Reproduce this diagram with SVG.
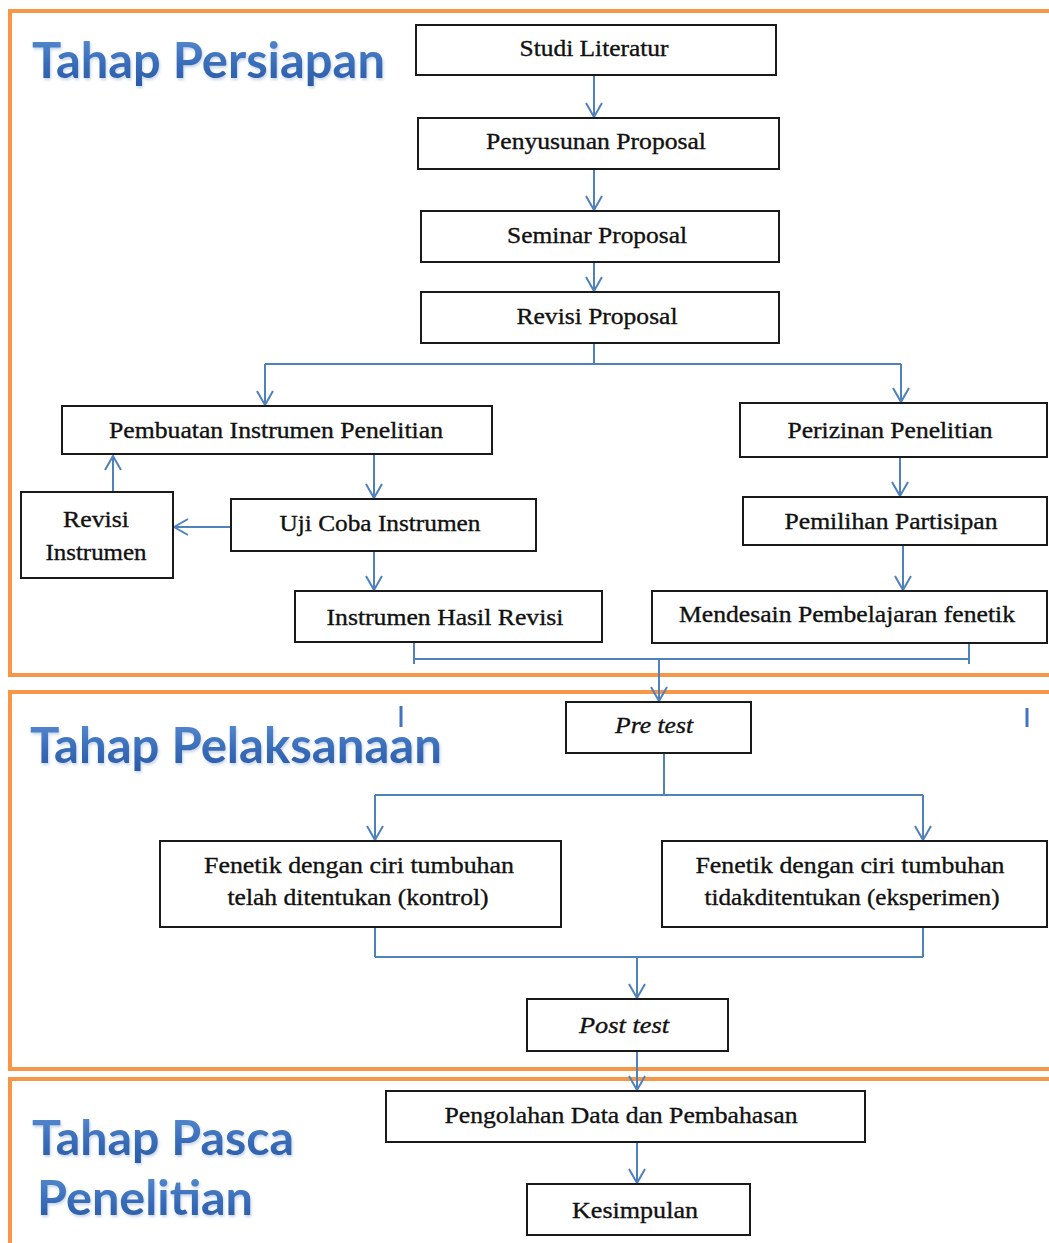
<svg xmlns="http://www.w3.org/2000/svg" width="1049" height="1243" viewBox="0 0 1049 1243">
<style>
.frame{fill:none;stroke:#F79646;stroke-width:4}
.box{fill:#fff;stroke:#1a1a1a;stroke-width:2}
.lbl{font-family:"Liberation Serif","Times New Roman",serif;font-size:24px;fill:#111;stroke:#111;stroke-width:0.35;text-anchor:middle}
.it{font-style:italic}
.title{font-family:Lato,"Liberation Sans",Arial,sans-serif;font-weight:700;fill:url(#tg);filter:url(#sh)}
.con{fill:none;stroke:#4F81BD;stroke-width:2}
.arr{marker-end:url(#ah)}
</style>
<defs>
<linearGradient id="tg" x1="0" y1="0" x2="0" y2="1">
<stop offset="0" stop-color="#5F92D4"/>
<stop offset="0.55" stop-color="#3A6EBB"/>
<stop offset="1" stop-color="#2858A2"/>
</linearGradient>
<filter id="sh" x="-5%" y="-20%" width="110%" height="150%">
<feGaussianBlur in="SourceAlpha" stdDeviation="1.5"/>
<feOffset dx="1" dy="2" result="b"/>
<feFlood flood-color="#9fb8d8" flood-opacity="0.6"/>
<feComposite in2="b" operator="in"/>
<feMerge><feMergeNode/><feMergeNode in="SourceGraphic"/></feMerge>
</filter>
<marker id="ah" markerUnits="userSpaceOnUse" viewBox="0 0 16 18" refX="15" refY="9" markerWidth="16" markerHeight="18" orient="auto">
<path d="M1,1 L15,9 L1,17" fill="none" stroke="#4F81BD" stroke-width="2"/>
</marker>
</defs>
<rect width="1049" height="1243" fill="#fff"/>

<g id="frames">
<rect class="frame" x="10" y="11" width="1060" height="664"/>
<rect class="frame" x="10" y="692" width="1060" height="377"/>
<rect class="frame" x="10" y="1079" width="1060" height="200"/>
</g>

<g id="titles">
<text class="title" x="32" y="78" font-size="50" textLength="353" lengthAdjust="spacingAndGlyphs">Tahap Persiapan</text>
<text class="title" x="30" y="763" font-size="50" textLength="412" lengthAdjust="spacingAndGlyphs">Tahap Pelaksanaan</text>
<text class="title" x="32" y="1155" font-size="48" textLength="262" lengthAdjust="spacingAndGlyphs">Tahap Pasca</text>
<text class="title" x="37" y="1215" font-size="48" textLength="216" lengthAdjust="spacingAndGlyphs">Penelitian</text>
</g>

<g id="connectors">
<path class="con arr" d="M594,75 V117"/>
<path class="con arr" d="M594,169 V210"/>
<path class="con arr" d="M594,262 V291"/>
<path class="con" d="M594,343 V364 M265,364 H901"/>
<path class="con arr" d="M265,364 V405"/>
<path class="con arr" d="M901,364 V402"/>
<path class="con arr" d="M374,454 V498"/>
<path class="con arr" d="M231,527 H174"/>
<path class="con arr" d="M113,492 V456"/>
<path class="con arr" d="M374,551 V590"/>
<path class="con arr" d="M900,457 V496"/>
<path class="con arr" d="M903,546 V590"/>
<path class="con" d="M414,642 V664 M969,643 V664 M414,659 H969"/>
<path class="con arr" d="M659,659 V701"/>
<path class="con" d="M664,753 V795 M375,795 H923"/>
<path class="con arr" d="M375,795 V840"/>
<path class="con arr" d="M923,795 V840"/>
<path class="con" d="M375,927 V957 M923,927 V957 M375,957 H923"/>
<path class="con arr" d="M637,957 V998"/>
<path class="con arr" d="M637,1051 V1090"/>
<path class="con arr" d="M637,1142 V1183"/>
<path d="M401,706 V727 M1027,708 V727" fill="none" stroke="#4472C4" stroke-width="3"/>
</g>

<g id="n-studi"><rect class="box" x="416" y="25" width="360" height="50"/><text class="lbl" x="594" y="56" textLength="149" lengthAdjust="spacingAndGlyphs">Studi Literatur</text></g>
<g id="n-penyusunan"><rect class="box" x="418" y="118" width="361" height="51"/><text class="lbl" x="596" y="149" textLength="220" lengthAdjust="spacingAndGlyphs">Penyusunan  Proposal</text></g>
<g id="n-seminar"><rect class="box" x="421" y="211" width="358" height="51"/><text class="lbl" x="597" y="243" textLength="180" lengthAdjust="spacingAndGlyphs">Seminar  Proposal</text></g>
<g id="n-revisiprop"><rect class="box" x="421" y="292" width="358" height="51"/><text class="lbl" x="597" y="324" textLength="161" lengthAdjust="spacingAndGlyphs">Revisi  Proposal</text></g>
<g id="n-pembuatan"><rect class="box" x="62" y="406" width="430" height="48"/><text class="lbl" x="276" y="438" textLength="334" lengthAdjust="spacingAndGlyphs">Pembuatan  Instrumen  Penelitian</text></g>
<g id="n-revisiinst"><rect class="box" x="21" y="492" width="152" height="86"/><text class="lbl" x="96" y="527" textLength="66" lengthAdjust="spacingAndGlyphs">Revisi</text><text class="lbl" x="96" y="560" textLength="101" lengthAdjust="spacingAndGlyphs">Instrumen</text></g>
<g id="n-ujicoba"><rect class="box" x="231" y="499" width="305" height="52"/><text class="lbl" x="380" y="531" textLength="201" lengthAdjust="spacingAndGlyphs">Uji Coba Instrumen</text></g>
<g id="n-hasil"><rect class="box" x="295" y="591" width="307" height="51"/><text class="lbl" x="445" y="625" textLength="237" lengthAdjust="spacingAndGlyphs">Instrumen  Hasil  Revisi</text></g>
<g id="n-perizinan"><rect class="box" x="740" y="403" width="307" height="54"/><text class="lbl" x="890" y="438" textLength="205" lengthAdjust="spacingAndGlyphs">Perizinan  Penelitian</text></g>
<g id="n-pemilihan"><rect class="box" x="743" y="497" width="304" height="48"/><text class="lbl" x="891" y="529" textLength="213" lengthAdjust="spacingAndGlyphs">Pemilihan  Partisipan</text></g>
<g id="n-mendesain"><rect class="box" x="652" y="591" width="395" height="52"/><text class="lbl" x="847" y="622" textLength="336" lengthAdjust="spacingAndGlyphs">Mendesain  Pembelajaran   fenetik</text></g>
<g id="n-pretest"><rect class="box" x="566" y="702" width="185" height="51"/><text class="lbl it" x="654" y="733" textLength="78" lengthAdjust="spacingAndGlyphs">Pre test</text></g>
<g id="n-kontrol"><rect class="box" x="160" y="841" width="401" height="86"/><text class="lbl" x="359" y="873" textLength="310" lengthAdjust="spacingAndGlyphs">Fenetik  dengan  ciri  tumbuhan</text><text class="lbl" x="358" y="905" textLength="261" lengthAdjust="spacingAndGlyphs">telah  ditentukan  (kontrol)</text></g>
<g id="n-eksperimen"><rect class="box" x="662" y="841" width="385" height="86"/><text class="lbl" x="850" y="873" textLength="309" lengthAdjust="spacingAndGlyphs">Fenetik  dengan  ciri  tumbuhan</text><text class="lbl" x="852" y="905" textLength="295" lengthAdjust="spacingAndGlyphs">tidakditentukan  (eksperimen)</text></g>
<g id="n-posttest"><rect class="box" x="527" y="999" width="201" height="52"/><text class="lbl it" x="624" y="1033" textLength="90" lengthAdjust="spacingAndGlyphs">Post test</text></g>
<g id="n-pengolahan"><rect class="box" x="386" y="1091" width="479" height="51"/><text class="lbl" x="621" y="1123" textLength="353" lengthAdjust="spacingAndGlyphs">Pengolahan  Data  dan  Pembahasan</text></g>
<g id="n-kesimpulan"><rect class="box" x="527" y="1184" width="223" height="51"/><text class="lbl" x="635" y="1218" textLength="126" lengthAdjust="spacingAndGlyphs">Kesimpulan</text></g>
</svg>
